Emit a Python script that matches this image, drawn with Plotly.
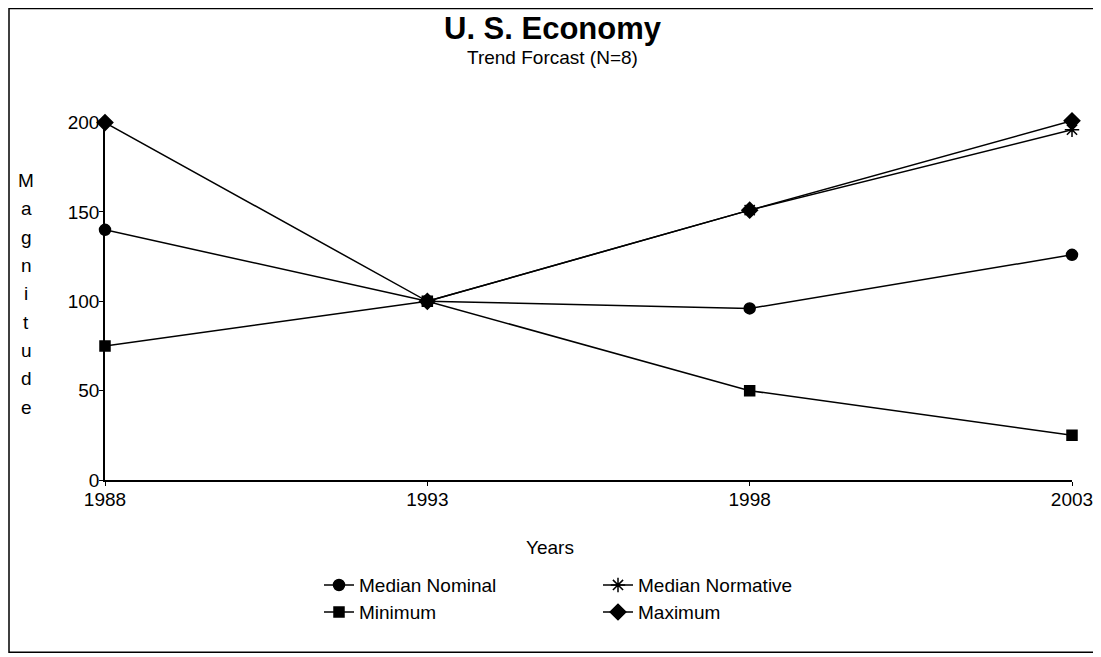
import plotly.graph_objects as go

years = [1988, 1993, 1998, 2003]
median_nominal = [140, 100, 96, 126]
median_normative = [None, 100, 151, 196]
minimum = [75, 100, 50, 25]
maximum = [200, 100, 151, 201]
y_ticks = [0, 50, 100, 150, 200]
y_title = "Magnitude"

# page is offset by the default 8px body margin
OFF = 8
W, H = 1101, 657
Y_MAX = 202
# plot area in page pixels
X0P, X1P = 105, 1072
Y0P = 480                      # value 0
PX_PER_UNIT = (480 - 123) / 200
Y1P = Y0P - Y_MAX * PX_PER_UNIT

L = X0P - OFF
R = W - (X1P - OFF)
T = Y1P - OFF
B = H - (Y0P - OFF)
PW = X1P - X0P
PH = Y0P - Y1P

def px(xp):
    return (xp - X0P) / PW

def py(yp):
    return (Y0P - yp) / PH

FONT = "Liberation Sans, Arial, sans-serif"
FS = 19

series = [
    ("Median Nominal", median_nominal, "circle", 11, "legend"),
    ("Minimum", minimum, "square", 10, "legend2"),
    ("Median Normative", median_normative, "asterisk-open", 12, "legend3"),
    ("Maximum", maximum, "diamond", 12, "legend4"),
]

fig = go.Figure()
for name, vals, sym, size, lg in series:
    fig.add_trace(go.Scatter(
        x=years, y=vals, name=name, mode="lines+markers",
        line=dict(color="black", width=1.5),
        marker=dict(symbol=sym, size=size, color="black",
                    line=dict(color="black", width=1.5)),
        cliponaxis=False, connectgaps=False, legend=lg,
    ))

legend_common = dict(font=dict(family=FONT, size=FS, color="black"),
                     bgcolor="rgba(0,0,0,0)", xanchor="left", yanchor="middle",
                     itemwidth=30, tracegroupgap=0)
fig.update_layout(
    legend=dict(x=px(319), y=py(585), **legend_common),
    legend2=dict(x=px(319), y=py(612), **legend_common),
    legend3=dict(x=px(598), y=py(585), **legend_common),
    legend4=dict(x=px(598), y=py(612), **legend_common),
)

fig.update_layout(
    width=W, height=H,
    margin=dict(l=L, r=R, t=T, b=B, pad=0),
    paper_bgcolor="white", plot_bgcolor="white",
    font=dict(family=FONT, size=FS, color="black"),
    showlegend=True,
    xaxis=dict(range=[1988, 2003], tickvals=years, ticktext=[str(y) for y in years],
               showline=True, linecolor="black", linewidth=1.5, showgrid=False,
               zeroline=False, ticks="outside", ticklen=4, tickcolor="black",
               ticklabelstandoff=-3,
               tickfont=dict(family=FONT, size=FS)),
    yaxis=dict(range=[0, Y_MAX], tickvals=y_ticks,
               showline=True, linecolor="black", linewidth=1.5, showgrid=False,
               zeroline=False, ticks="outside", ticklen=4, tickcolor="black",
               ticklabelstandoff=-4,
               tickfont=dict(family=FONT, size=FS)),
)

# Titles
fig.add_annotation(text="<b>U. S. Economy</b>", xref="paper", yref="paper",
                   x=px(553), y=py(29), showarrow=False, xanchor="center", yanchor="middle",
                   font=dict(family=FONT, size=31, color="black"))
fig.add_annotation(text="Trend Forcast (N=8)", xref="paper", yref="paper",
                   x=px(552), y=py(58), showarrow=False, xanchor="center", yanchor="middle",
                   font=dict(family=FONT, size=FS, color="black"))
fig.add_annotation(text="Years", xref="paper", yref="paper",
                   x=px(550), y=py(547), showarrow=False, xanchor="center", yanchor="middle",
                   font=dict(family=FONT, size=FS, color="black"))

# Vertical y-axis title, one letter per line
for i, ch in enumerate(y_title):
    fig.add_annotation(text=ch, xref="paper", yref="paper",
                       x=px(26), y=py(181 + i * 28.3), showarrow=False,
                       xanchor="center", yanchor="middle",
                       font=dict(family=FONT, size=FS, color="black"))

# Outer frame
fig.add_shape(type="rect", xref="paper", yref="paper",
              x0=px(9), x1=px(1096), y0=py(652), y1=py(9),
              line=dict(color="black", width=1.5), fillcolor="rgba(0,0,0,0)")

fig.write_html("out.html")
